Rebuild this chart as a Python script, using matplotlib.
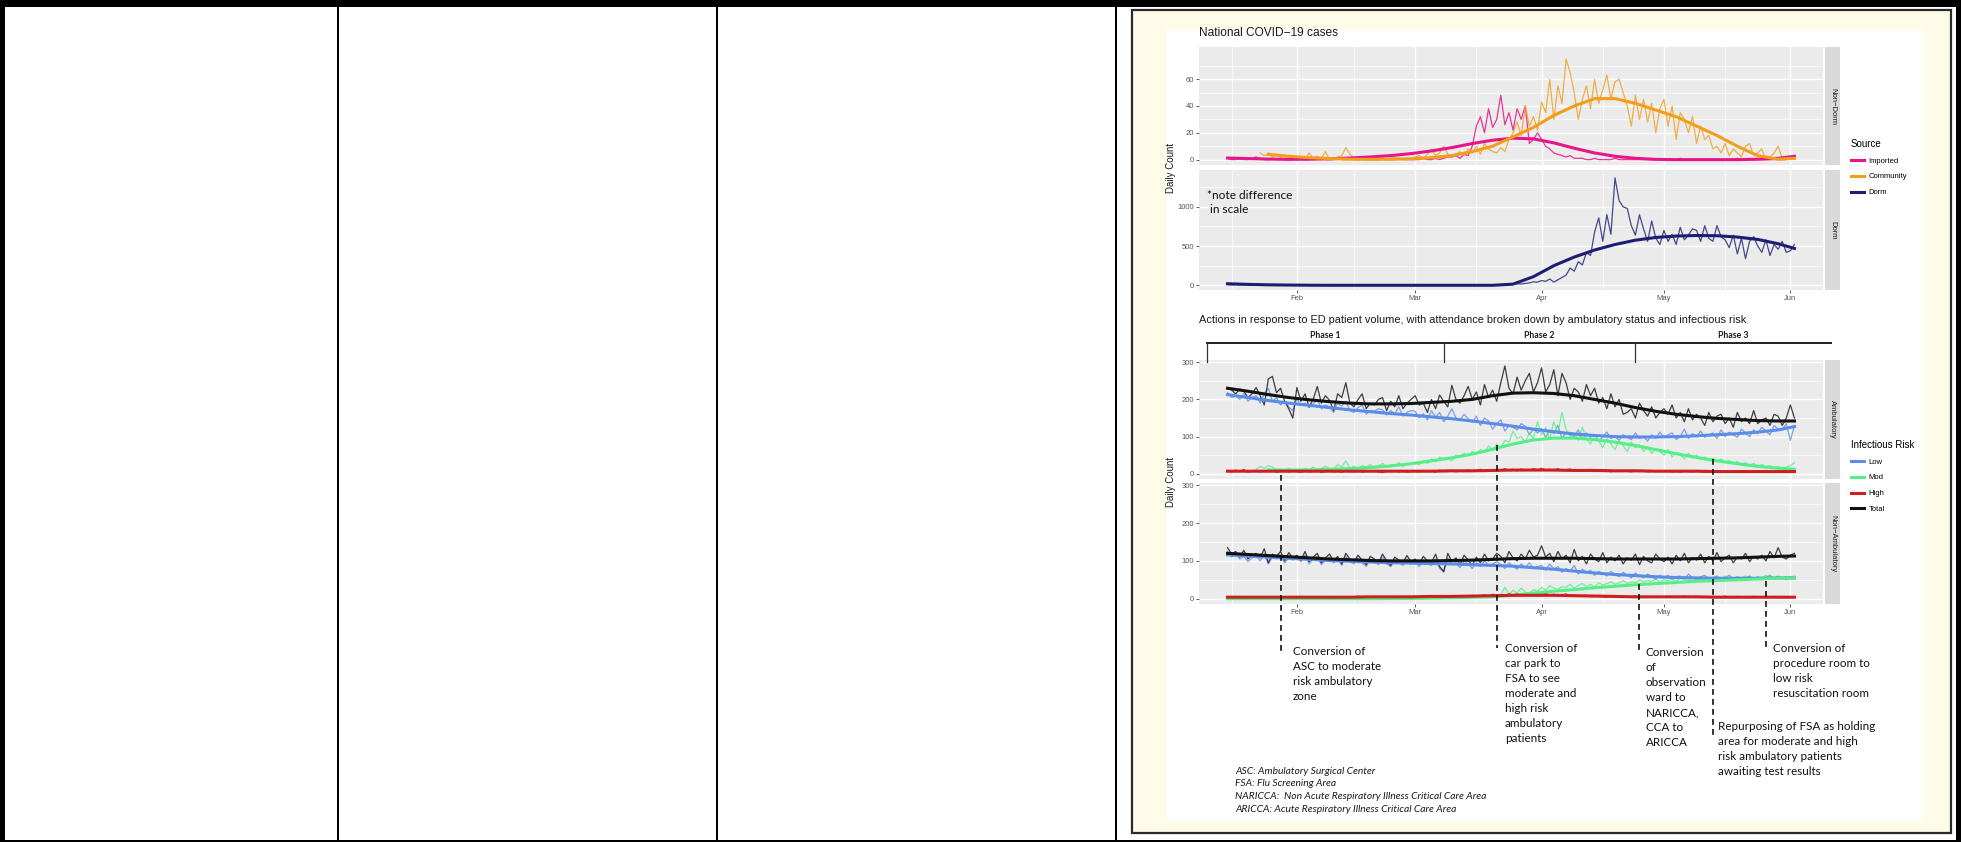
import numpy as np
import matplotlib
matplotlib.use("Agg")
import matplotlib.pyplot as plt
import matplotlib.dates as mdates
import matplotlib.transforms as mtransforms
from matplotlib.lines import Line2D
from matplotlib.patches import Rectangle

nan = np.nan

# daily values, 15 Jan .. 2 Jun 2020 (140 days)
days = np.arange(np.datetime64("2020-01-15"), np.datetime64("2020-06-03"))
# smoothed curves are read every 5 days plus the last day
smooth_days = np.append(days[::5], days[-1])

month_ticks = ["2020-02-01", "2020-03-01", "2020-04-01", "2020-05-01", "2020-06-01"]
month_labels = ["Feb", "Mar", "Apr", "May", "Jun"]

# ---- national cases ----
imported = ([1, 0, 0, 1, 0, 0, 1, 2, 1, 0, 0, 1, 0, 1, 0, 0, 1]
            + [0, 1, 0, 0, 1, 2, 1, 0, 0, 0, 1, 0, 0, 1, 0, 0, 1, 0, 0, 0, 0, 1, 0, 0, 0, 1, 0, 0, 0]
            + [0, 0, 1, 0, 0, 1, 0, 1, 2, 2, 3, 1, 4, 3, 10, 25, 32, 20, 38, 24, 30, 48, 26, 35, 22, 38, 30, 40, 12, 15, 20]
            + [15, 10, 8, 5, 4, 3, 2, 3, 1, 1, 1, 0, 0, 1, 0, 0, 0, 0, 1, 0, 0, 0, 0, 0, 0, 0, 0, 0, 0, 0]
            + [0, 0, 0, 0, 1, 0, 0, 0, 0, 0, 0, 0, 0, 0, 0, 0, 0, 0, 1, 0, 0, 0, 0, 0, 0, 0, 0, 0, 0, 0, 0]
            + [1, 2])
community = ([nan] * 8 + [5, 3, 4, 2, 3, 2, 3, 2, 1]
             + [1, 2, 0, 5, 1, 2, 1, 6, 0, 1, 2, 3, 9, 4, 1, 0, 2, 1, 0, 1, 0, 1, 0, 1, 2, 0, 1, 0, 1]
             + [2, 3, 1, 4, 8, 3, 5, 10, 4, 2, 4, 6, 3, 8, 5, 10, 4, 12, 8, 6, 5, 9, 6, 15, 20, 28, 18, 40, 25, 32, 22]
             + [43, 35, 60, 30, 55, 42, 75, 65, 50, 30, 45, 55, 38, 60, 42, 52, 63, 45, 58, 60, 50, 40, 25, 48, 30, 45, 28, 42, 20, 38]
             + [45, 25, 40, 15, 35, 30, 20, 32, 12, 25, 15, 18, 8, 10, 5, 12, 3, 8, 5, 2, 10, 12, 3, 5, 8, 0, 2, 5, 10, 1, 2]
             + [1, 0])
dorm = ([10, 5, 8, 4, 6, 3, 2, 5, 3, 2, 1, 2, 1, 0, 1, 0, 1]
        + [0] * 29
        + [0] * 19 + [0, 2, 5, 3, 8, 10, 20, 15, 25, 30, 45, 40]
        + [60, 50, 80, 40, 70, 100, 130, 220, 180, 300, 260, 420, 380, 680, 860, 560, 900, 650, 1370, 1080,
           1000, 980, 760, 640, 900, 720, 560, 820, 600, 520]
        + [700, 560, 650, 520, 740, 580, 640, 720, 700, 560, 760, 600, 560, 760, 620, 580, 480, 640, 400, 600,
           340, 560, 620, 500, 420, 580, 380, 520, 460, 560, 420]
        + [440, 520])

imported_smooth = [1.2, 0.8, 0.4, 0.2, 0.3, 0.6, 1.2, 2, 3, 4.5, 6.5, 9, 12, 14.5, 16, 15.5, 12.5, 8.5, 5, 2.5,
                   1, 0.2, 0, 0, 0, 0, 0.3, 1, 2.5]
community_smooth = [nan, nan, 4, 2.5, 1.5, 0.8, 0.3, 0.2, 0.3, 0.6, 1.5, 3, 6, 10, 17, 24, 33, 40, 45.5, 45.5,
                    42, 37, 32, 25, 18, 10, 3, 0.3, 1]
dorm_smooth = [20, 12, 6, 3, 1, 0, 0, 0, 0, 0, 0, 0, 0, 0, 15, 110, 250, 360, 450, 520,
               575, 610, 628, 635, 632, 615, 585, 530, 470]

# ---- ED attendance, ambulatory ----
amb_total = ([232, 225, 215, 228, 222, 205, 215, 232, 210, 185, 255, 262, 218, 230, 195, 175, 150]
             + [232, 195, 215, 180, 200, 235, 190, 210, 198, 170, 215, 205, 245, 190, 180, 200, 215, 175, 190, 185,
                200, 205, 170, 195, 180, 210, 175, 190, 200]
             + [210, 185, 190, 165, 200, 175, 212, 195, 180, 238, 200, 190, 210, 235, 200, 220, 185, 240, 205, 225,
                195, 245, 290, 230, 215, 260, 225, 250, 270, 220, 245]
             + [285, 220, 240, 280, 210, 270, 245, 200, 230, 220, 195, 240, 210, 230, 190, 205, 175, 215, 180, 200,
                160, 165, 175, 150, 190, 170, 155, 180, 150, 165]
             + [175, 160, 185, 150, 165, 140, 175, 145, 160, 150, 130, 165, 140, 155, 160, 135, 150, 125, 165, 140,
                150, 135, 170, 135, 145, 150, 130, 160, 155, 130, 150]
             + [185, 150])
amb_low = ([218, 205, 210, 200, 215, 195, 205, 210, 190, 215, 230, 195, 205, 185, 195, 180, 170]
           + [200, 185, 190, 178, 188, 200, 175, 185, 180, 165, 190, 182, 195, 170, 165, 178, 185, 160, 170, 168,
              175, 172, 158, 170, 162, 180, 155, 165, 170]
           + [168, 150, 162, 145, 170, 152, 165, 140, 155, 175, 150, 145, 160, 148, 138, 155, 130, 150, 142, 120,
              135, 145, 115, 130, 125, 118, 135, 128, 105, 120, 110]
           + [122, 98, 118, 108, 130, 95, 112, 105, 100, 118, 92, 110, 98, 105, 88, 100, 112, 95, 102, 90,
              105, 98, 92, 110, 95, 100, 88, 105, 95, 112]
           + [98, 105, 110, 92, 100, 120, 95, 108, 100, 115, 98, 105, 110, 95, 118, 100, 112, 105, 98, 120,
              110, 100, 118, 108, 125, 115, 105, 130, 120, 118, 135]
           + [90, 130])
amb_mod = ([nan] * 7 + [12, 20, 15, 22, 18, 10, 12, 8, 15, 10]
           + [12, 8, 15, 10, 18, 12, 14, 20, 15, 10, 25, 18, 35, 15, 20, 12, 22, 18, 25, 15, 20, 28, 18, 25, 22, 30, 20, 28, 25]
           + [30, 25, 35, 28, 40, 32, 45, 38, 42, 35, 50, 45, 55, 48, 60, 52, 65, 58, 75, 62,
              80, 70, 90, 85, 115, 95, 100, 85, 110, 95, 140]
           + [105, 125, 95, 140, 110, 165, 120, 100, 110, 90, 125, 95, 80, 105, 88, 70, 95, 80, 65, 90,
              75, 60, 85, 70, 78, 60, 72, 55, 68, 60]
           + [50, 65, 45, 58, 52, 40, 55, 42, 50, 38, 45, 35, 42, 32, 40, 30, 36, 28, 33, 25,
              30, 22, 28, 20, 25, 18, 22, 15, 20, 12, 18]
           + [22, 30])
amb_high = ([8, 5, 10, 6, 12, 4, 7, 9, 5, 8, 6, 10, 4, 7, 8, 5, 9]
            + [6, 4, 8, 5, 7, 10, 3, 6, 9, 5, 7, 4, 8, 6, 5, 9, 4, 7, 6, 8, 5, 3, 7, 6, 9, 5, 8, 4, 6]
            + [7, 5, 9, 6, 8, 4, 10, 6, 7, 9, 5, 8, 6, 10, 7, 9, 12, 6, 8, 11, 7, 10, 14, 9, 12, 8, 13, 10, 9, 14, 11]
            + [15, 10, 12, 9, 14, 8, 11, 13, 9, 7, 10, 8, 12, 6, 9, 7, 10, 5, 8, 6, 9, 7, 5, 8, 6, 9, 5, 7, 6, 8]
            + [6, 8, 5, 7, 4, 9, 6, 5, 8, 6, 4, 7, 5, 9, 6, 8, 4, 6, 7, 5, 8, 4, 6, 7, 5, 9, 6, 4, 7, 5, 8]
            + [6, 9])

amb_total_smooth = [230, 222, 213, 205, 199, 194, 190, 188, 188, 189, 192, 195, 200, 210, 217, 218, 216, 210, 200, 190,
                    178, 168, 160, 154, 149, 146, 143, 142, 142]
amb_low_smooth = [213, 205, 197, 190, 184, 178, 172, 167, 162, 158, 153, 148, 142, 135, 128, 120, 113, 107, 103, 100,
                  99, 99, 100, 102, 105, 108, 112, 118, 127]
amb_mod_smooth = [nan, nan, 10, 10, 10, 12, 14, 17, 21, 27, 35, 43, 53, 66, 80, 91, 96, 96, 92, 85,
                  76, 65, 54, 44, 35, 27, 20, 15, 12]
amb_high_smooth = [7, 7, 7, 7, 7, 7, 7, 7, 7, 7, 7, 8, 8, 9, 10, 10, 10, 9, 9, 8, 8, 7, 7, 7, 6, 6, 6, 6, 6]

# ---- ED attendance, non-ambulatory ----
nonamb_total = ([135, 118, 125, 110, 128, 105, 115, 120, 108, 132, 95, 118, 112, 125, 100, 122, 108]
                + [115, 102, 125, 98, 110, 120, 95, 108, 118, 100, 112, 92, 120, 105, 98, 115, 102, 90, 112, 105,
                   95, 118, 100, 88, 110, 102, 96, 114, 98]
                + [105, 92, 112, 100, 95, 118, 85, 72, 120, 98, 108, 90, 115, 102, 88, 110, 95, 118, 100, 105,
                   120, 112, 95, 125, 108, 100, 118, 105, 128, 110, 115]
                + [140, 110, 120, 98, 125, 105, 115, 95, 130, 100, 112, 92, 118, 105, 98, 122, 95, 110, 100, 115,
                   92, 108, 102, 118, 90, 112, 100, 95, 118, 105]
                + [98, 110, 92, 115, 100, 120, 95, 108, 102, 118, 95, 112, 100, 122, 98, 108, 115, 95, 110, 105,
                   120, 98, 112, 105, 115, 100, 125, 108, 135, 110, 105]
                + [115, 120])
nonamb_low = ([125, 110, 118, 105, 112, 98, 108, 115, 100, 118, 92, 110, 105, 112, 95, 108, 102]
              + [110, 98, 115, 92, 105, 112, 90, 102, 110, 95, 105, 88, 112, 98, 92, 108, 95, 85, 105, 98,
                 90, 110, 92, 85, 102, 95, 88, 105, 92]
              + [98, 85, 102, 92, 88, 105, 80, 70, 108, 90, 95, 82, 100, 92, 80, 95, 85, 100, 88, 92,
                 98, 90, 80, 95, 85, 78, 92, 82, 95, 80, 85]
              + [88, 75, 92, 78, 85, 70, 80, 72, 88, 65, 78, 70, 75, 62, 72, 68, 60, 72, 65, 58,
                 70, 62, 55, 68, 60, 55, 65, 58, 52, 62]
              + [55, 62, 50, 58, 60, 52, 65, 55, 50, 58, 62, 52, 56, 60, 50, 55, 62, 52, 58, 48,
                 55, 60, 52, 58, 50, 55, 62, 52, 58, 55, 50]
              + [58, 55])
nonamb_mod = ([0] * 17
              + [0, 0, 1, 0, 0, 0, 0, 1, 0, 0, 0, 0, 0, 1, 0, 0, 0, 0, 0, 1, 0, 0, 0, 0, 0, 0, 1, 0, 0]
              + [0, 0, 0, 1, 0, 1, 0, 2, 1, 2, 1, 3, 2, 4, 3, 5, 4, 6, 5, 8, 6, 10, 30, 12, 22, 15, 28, 18, 14, 24, 20]
              + [30, 22, 35, 28, 25, 32, 30, 38, 28, 35, 40, 32, 38, 30, 42, 36, 40, 45, 38, 42,
                 48, 40, 45, 42, 50, 44, 48, 46, 52, 45]
              + [50, 48, 52, 45, 55, 50, 48, 56, 52, 50, 58, 54, 50, 56, 52, 60, 55, 52, 58, 55,
                 60, 56, 52, 58, 55, 62, 56, 54, 60, 55, 58]
              + [55, 60])
nonamb_high = ([5, 3, 6, 4, 5, 2, 4, 6, 3, 5, 4, 6, 3, 5, 4, 3, 5]
               + [4, 6, 3, 5, 4, 2, 6, 4, 5, 3, 4, 6, 3, 5, 4, 7, 3, 5, 4, 6, 3, 4, 5, 3, 6, 4, 5, 3, 4]
               + [5, 4, 6, 3, 5, 7, 4, 6, 5, 8, 4, 6, 5, 7, 9, 6, 8, 10, 7, 12, 9, 11, 8, 13, 10, 14, 9, 12, 15, 10, 12]
               + [11, 14, 9, 12, 8, 10, 13, 7, 9, 6, 8, 10, 5, 7, 9, 6, 4, 7, 5, 8, 6, 4, 5, 7, 3, 6, 5, 4, 6, 5]
               + [4, 6, 3, 5, 4, 7, 3, 5, 6, 4, 5, 3, 6, 4, 5, 7, 3, 4, 6, 5, 3, 4, 6, 5, 4, 3, 5, 6, 4, 5, 3]
               + [4, 5])

nonamb_total_smooth = [120, 117, 114, 111, 108, 105, 103, 101, 100, 100, 100, 101, 102, 104, 106, 107, 107, 107, 106, 105,
                       105, 105, 105, 106, 107, 108, 110, 112, 113]
nonamb_low_smooth = [116, 113, 110, 107, 104, 101, 99, 97, 95, 94, 93, 92, 90, 88, 86, 82, 78, 73, 68, 64,
                     61, 58, 56, 55, 54, 54, 54, 55, 55]
nonamb_mod_smooth = [0, 0, 0, 0, 0, 0, 0, 0, 0.5, 1, 1.5, 2.5, 3.5, 5, 9, 15, 20, 24, 29, 33,
                     37, 40, 43, 46, 48, 50, 52, 54, 55]
nonamb_high_smooth = [4, 4, 4, 4, 4, 4, 4, 5, 5, 5, 6, 6, 7, 8, 9, 9, 9, 8, 7, 6, 5, 5, 5, 5, 4, 4, 4, 4, 4]

# ---- phases and actions ----
phase_bounds = ["2020-01-10", "2020-03-08", "2020-04-24", "2020-06-11"]
phase_names = ["Phase 1", "Phase 2", "Phase 3"]
event_dates = ["2020-01-28", "2020-03-21", "2020-04-25", "2020-05-13", "2020-05-26"]
event_texts = ["Conversion of\nASC to moderate\nrisk ambulatory\nzone",
               "Conversion of\ncar park to\nFSA to see\nmoderate and\nhigh risk\nambulatory\npatients",
               "Conversion\nof\nobservation\nward to\nNARICCA,\nCCA to\nARICCA",
               "Repurposing of FSA as holding\narea for moderate and high\nrisk ambulatory patients\nawaiting test results",
               "Conversion of\nprocedure room to\nlow risk\nresuscitation room"]
abbreviations = ["ASC: Ambulatory Surgical Center",
                 "FSA: Flu Screening Area",
                 "NARICCA:  Non Acute Respiratory Illness Critical Care Area",
                 "ARICCA: Acute Respiratory Illness Critical Care Area"]

# ---------------- drawing ----------------
plt.rcParams["font.family"] = ["Liberation Sans", "DejaVu Sans"]
narrow = ["Lato", "Liberation Sans", "DejaVu Sans"]

W, H = 1961, 842
fig = plt.figure(figsize=(W / 100, H / 100), dpi=100)


def box(x0, y0, x1, y1):
    return [x0 / W, 1 - y1 / H, (x1 - x0) / W, (y1 - y0) / H]


def frect(x0, y0, x1, y1, **kw):
    fig.add_artist(Rectangle((x0 / W, 1 - y1 / H), (x1 - x0) / W, (y1 - y0) / H,
                             transform=fig.transFigure, **kw))


def fy(y):
    return 1 - y / H


# table frame
frect(0, 0, W, 7, color="black", lw=0)
frect(0, 0, 5, H, color="black", lw=0)
frect(1956, 0, W, H, color="black", lw=0)
frect(0, 839.5, W, H, color="black", lw=0)
for x in (338, 717, 1116):
    frect(x - 0.8, 7, x + 0.8, H, color="black", lw=0)

# picture frame
frect(1132, 10, 1951, 833, facecolor="#FEFBE8", edgecolor="#2a2a2a", lw=1.6, zorder=-2)
frect(1166, 30, 1923, 821, facecolor="white", lw=0, zorder=-1)

xlo, xhi = np.datetime64("2020-01-08"), np.datetime64("2020-06-09")
month_minor = ["2020-01-16", "2020-02-15", "2020-03-16", "2020-04-16", "2020-05-16"]


def style(ax, ylim, yticks, yminor, show_x):
    ax.set_facecolor("#EBEBEB")
    for s in ax.spines.values():
        s.set_visible(False)
    ax.set_xlim(xlo, xhi)
    ax.set_ylim(*ylim)
    ax.set_xticks([np.datetime64(d) for d in month_ticks])
    ax.set_xticks([np.datetime64(d) for d in month_minor], minor=True)
    ax.set_yticks(yticks)
    ax.set_yticks(yminor, minor=True)
    ax.set_yticklabels([str(t) for t in yticks])
    ax.grid(which="major", color="white", lw=1.0)
    ax.grid(which="minor", color="white", lw=0.5)
    ax.set_axisbelow(True)
    ax.tick_params(which="minor", length=0)
    ax.tick_params(which="major", length=2.2, width=0.6, color="#444444",
                   labelsize=5.5, labelcolor="#555555", pad=1.5)
    if show_x:
        ax.set_xticklabels(month_labels)
    else:
        ax.tick_params(axis="x", which="major", length=0, labelbottom=False)


def strip(x0, y0, x1, y1, label):
    sx = fig.add_axes(box(x0, y0, x1, y1))
    sx.set_facecolor("#D9D9D9")
    sx.set_xticks([])
    sx.set_yticks([])
    for s in sx.spines.values():
        s.set_visible(False)
    sx.text(0.5, 0.5, label, rotation=-90, ha="center", va="center", fontsize=5.5,
            color="#1A1A1A", transform=sx.transAxes)


c_imp, c_com, c_dorm = "#E8158A", "#F29E1B", "#1D1D72"
c_low, c_mod, c_high, c_tot = "#5B8CE8", "#55EE88", "#CF1E1E", "#111111"
thin, thick = 0.9, 2.2

# national cases: non-dorm
ax_nd = fig.add_axes(box(1199, 47, 1823, 165))
ax_nd.plot(days, imported, color=c_imp, lw=thin, alpha=0.85)
ax_nd.plot(days, community, color=c_com, lw=thin, alpha=0.8)
ax_nd.plot(smooth_days, imported_smooth, color=c_imp, lw=thick)
ax_nd.plot(smooth_days, community_smooth, color=c_com, lw=thick)
style(ax_nd, (-4, 84), [0, 20, 40, 60], [10, 30, 50, 70], False)
strip(1825, 47, 1840, 165, "Non\u2212Dorm")

# national cases: dorm
ax_d = fig.add_axes(box(1199, 170, 1823, 290))
ax_d.plot(days, dorm, color=c_dorm, lw=thin, alpha=0.8)
ax_d.plot(smooth_days, dorm_smooth, color=c_dorm, lw=thick)
style(ax_d, (-60, 1470), [0, 500, 1000], [250, 750, 1250], True)
strip(1825, 170, 1840, 290, "Dorm")
ax_d.text(np.datetime64("2020-01-10"), 1210, "*note difference\n in scale", fontsize=8.6,
          family=narrow, color="#111111", va="top", ha="left", linespacing=1.3)

fig.text(1199 / W, fy(33), "National COVID\u221219 cases", fontsize=8.6, color="#1A1A1A",
         ha="left", va="center")
fig.text(1171 / W, fy(168), "Daily Count", rotation=90, fontsize=7, color="#1A1A1A",
         ha="center", va="center")

fig.legend(handles=[Line2D([], [], color=c, lw=thick) for c in (c_imp, c_com, c_dorm)],
           labels=["Imported", "Community", "Dorm"], title="Source", loc="upper left",
           bbox_to_anchor=(1851 / W, fy(139)), frameon=False, fontsize=5.5, title_fontsize=7,
           handlelength=1.7, handletextpad=0.6, labelspacing=1.1, alignment="left",
           borderaxespad=0, borderpad=0)

# ED attendance: ambulatory
ax_a = fig.add_axes(box(1199, 360, 1823, 479))
for vals, c in ((amb_low, c_low), (amb_mod, c_mod), (amb_high, c_high), (amb_total, c_tot)):
    ax_a.plot(days, vals, color=c, lw=thin, alpha=0.8)
for vals, c in ((amb_low_smooth, c_low), (amb_mod_smooth, c_mod), (amb_high_smooth, c_high),
                (amb_total_smooth, c_tot)):
    ax_a.plot(smooth_days, vals, color=c, lw=thick)
style(ax_a, (-14, 306), [0, 100, 200, 300], [50, 150, 250], False)
strip(1825, 360, 1840, 479, "Ambulatory")

# ED attendance: non-ambulatory
ax_na = fig.add_axes(box(1199, 483, 1823, 604))
for vals, c in ((nonamb_low, c_low), (nonamb_mod, c_mod), (nonamb_high, c_high), (nonamb_total, c_tot)):
    ax_na.plot(days, vals, color=c, lw=thin, alpha=0.8)
for vals, c in ((nonamb_low_smooth, c_low), (nonamb_mod_smooth, c_mod), (nonamb_high_smooth, c_high),
                (nonamb_total_smooth, c_tot)):
    ax_na.plot(smooth_days, vals, color=c, lw=thick)
style(ax_na, (-14, 306), [0, 100, 200, 300], [50, 150, 250], True)
strip(1825, 483, 1840, 604, "Non\u2212Ambulatory")

fig.text(1199 / W, fy(320), "Actions in response to ED patient volume, with attendance broken down by "
         "ambulatory status and infectious risk", fontsize=7.9, color="#1A1A1A", ha="left", va="center")
fig.text(1171 / W, fy(482), "Daily Count", rotation=90, fontsize=7, color="#1A1A1A",
         ha="center", va="center")

fig.legend(handles=[Line2D([], [], color=c, lw=thick) for c in (c_low, c_mod, c_high, c_tot)],
           labels=["Low", "Mod", "High", "Total"], title="Infectious Risk", loc="upper left",
           bbox_to_anchor=(1851 / W, fy(440)), frameon=False, fontsize=5.5, title_fontsize=7,
           handlelength=1.7, handletextpad=0.6, labelspacing=1.1, alignment="left",
           borderaxespad=0, borderpad=0)

# phase bracket and action markers, x in dates, y in figure pixels
trans = mtransforms.blended_transform_factory(ax_na.transData, fig.transFigure)
pb = [mdates.date2num(np.datetime64(d)) for d in phase_bounds]
fig.add_artist(Line2D([pb[0], pb[-1]], [fy(343), fy(343)], transform=trans, color="#222222", lw=1.4))
for b in pb[:-1]:
    fig.add_artist(Line2D([b, b], [fy(343), fy(362)], transform=trans, color="#333333", lw=0.9))
for i, name in enumerate(phase_names):
    fig.text((pb[i] + pb[i + 1]) / 2, fy(335), name, transform=trans, ha="center", va="center",
             fontsize=6.3, family=narrow, fontweight="bold", color="#1A1A1A")

event_top = [475, 445, 584, 459, 581]
event_bottom = [652, 648, 652, 735, 650]
text_xy = [(1293, 646), (1505, 643), (1646, 647), (1718, 721), (1773, 643)]
for d, y0, y1, txt, (tx, ty) in zip(event_dates, event_top, event_bottom, event_texts, text_xy):
    e = mdates.date2num(np.datetime64(d))
    fig.add_artist(Line2D([e, e], [fy(y0), fy(y1)], transform=trans, color="#111111", lw=1.2,
                          dashes=(3.5, 2.5)))
    fig.text(tx / W, fy(ty), txt, ha="left", va="top", fontsize=8.4, family=narrow,
             color="#111111", linespacing=1.45)

fig.text(1235 / W, fy(767), "\n".join(abbreviations), ha="left", va="top", fontsize=7.4,
         family=narrow, style="italic", color="#1A1A1A", linespacing=1.5)

plt.savefig("out.png", dpi=100)
plt.close()
